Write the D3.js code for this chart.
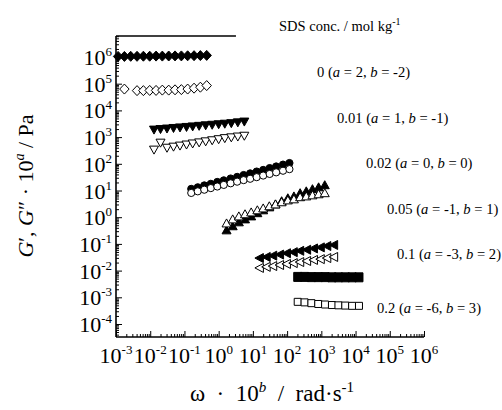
<!DOCTYPE html>
<meta charset="utf-8">
<style>
body { margin: 0; background: #fff; }
svg { font-family: "Liberation Serif", "Times New Roman", serif; }
</style>
<body>
<svg width="502" height="410"></svg>
<script src="https://cdnjs.cloudflare.com/ajax/libs/d3/7.8.5/d3.min.js"></script>
<script>

var concs = ["0", "0.01", "0.02", "0.05", "0.1", "0.2"];
var aShift = [2, 1, 0, -1, -3, -6];
var bShift = [-2, -1, 0, 1, 2, 3];

// 0 mol/kg, diamonds
var w0 = [0.00115,0.00176,0.00269,0.00412,0.00631,0.00966,0.0148,0.0226,0.0347,0.0531,0.0813,0.124,0.191,0.292,0.447];
var gp0 = [1.05e6,1.05e6,1.06e6,1.06e6,1.07e6,1.07e6,1.08e6,1.08e6,1.09e6,1.10e6,1.10e6,1.11e6,1.12e6,1.13e6,1.15e6];
var wpp0 = [0.00176,0.00412,0.00631,0.00966,0.0148,0.0226,0.0347,0.0531,0.0813,0.124,0.191,0.292,0.447];
var gpp0 = [6.3e4,5.5e4,5.5e4,5.6e4,5.6e4,5.75e4,5.75e4,5.9e4,6.0e4,6.3e4,6.8e4,7.4e4,8.5e4];

// 0.01, down triangles
var w1 = [0.0129,0.0200,0.0309,0.0479,0.0741,0.115,0.174,0.269,0.417,0.646,1.0,1.51,2.34,3.63,5.62];
var gp1 = [1860,1950,2040,2140,2240,2340,2450,2570,2690,2820,2950,3090,3240,3470,3720];
var gpp1 = [331,603,389,427,468,513,562,617,676,741,813,891,955,1023,1096];

// 0.02, circles
var w2 = [0.158,0.245,0.380,0.589,0.912,1.41,2.24,3.47,5.37,8.32,12.9,20.0,30.9,47.9,75.9,117];
var gp2 = [11.5,13.2,15.5,17.8,20.9,24.0,28.2,32.4,38.0,43.7,51.3,58.9,69.2,79.4,93.3,107];
var gpp2 = [8.1,9.3,10.7,12.3,14.1,16.2,18.6,21.4,24.5,27.5,31.6,36.3,41.7,47.9,55.0,63.1];

// 0.05, up triangles
var w3 = [1.70,2.57,3.89,5.89,8.91,13.5,20.0,30.2,45.7,69.2,105,158,240,363,550,832,1259];
var gp3 = [0.33,0.47,0.66,0.85,1.10,1.45,1.86,2.40,3.09,4.07,5.25,6.17,8.13,9.55,11.5,13.5,16.2];
var gpp3 = [0.60,0.85,1.10,1.32,1.55,1.86,2.19,2.63,3.09,3.72,4.37,4.79,5.75,6.17,6.76,7.41,8.13];

// 0.1, left triangles
var w4 = [15.5,24.5,38.0,60.3,95.5,151,234,372,589,933,1445,2291];
var gp4 = [0.0295,0.0324,0.0363,0.0398,0.0447,0.0490,0.0550,0.0603,0.0676,0.0741,0.0832,0.0912];
var gpp4 = [0.0126,0.0138,0.0148,0.0162,0.0178,0.0191,0.0209,0.0229,0.0251,0.0269,0.0295,0.0324];

// 0.2, squares
var w5 = [204,324,513,813,1288,2042,3162,5012,7943,12589];
var gp5 = [0.0058,0.0058,0.0057,0.0057,0.0057,0.0056,0.0056,0.0056,0.0056,0.0056];
var gpp5 = [6.76e-4,6.46e-4,6.03e-4,5.62e-4,5.37e-4,5.13e-4,5.01e-4,4.90e-4,4.79e-4,4.79e-4];

var xExp = [-3,-2,-1,0,1,2,3,4,5,6];
var yExp = [-4,-3,-2,-1,0,1,2,3,4,5,6];

var series = [
	{w:w0, g:gp0, shape:"diamond", open:false}, {w:wpp0, g:gpp0, shape:"diamond", open:true},
	{w:w1, g:gp1, shape:"down", open:false}, {w:w1, g:gpp1, shape:"down", open:true},
	{w:w2, g:gp2, shape:"circle", open:false}, {w:w2, g:gpp2, shape:"circle", open:true},
	{w:w3, g:gp3, shape:"up", open:false}, {w:w3, g:gpp3, shape:"up", open:true},
	{w:w4, g:gp4, shape:"left", open:false}, {w:w4, g:gpp4, shape:"left", open:true},
	{w:w5, g:gp5, shape:"bigsquare", open:false}, {w:w5, g:gpp5, shape:"square", open:true}
];

var labelPos = [[317,77],[337,123],[366,168],[387,214],[397,259],[377,313]];

var pL = 116, pR = 424, pT = 36, pB = 337;

var x = d3.scaleLog().domain([1e-3, 1e6]).range([pL, pR]);
var y = d3.scaleLog().domain([1e-4, 1e6]).range([324, 57]);
y.domain([y.invert(pB), y.invert(pT)]).range([pB, pT]);

var shapes = {
	diamond: "M0,-5L4.7,0L0,5L-4.7,0Z",
	down: "M-4.5,-3.8L4.5,-3.8L0,4.2Z",
	up: "M-4.5,3.8L4.5,3.8L0,-4.2Z",
	left: "M4,-4.5L4,4.5L-4.5,0Z",
	circle: "M3.6,0A3.6,3.6 0 1,1 -3.6,0A3.6,3.6 0 1,1 3.6,0Z",
	square: "M-3.5,-3.5H3.5V3.5H-3.5Z",
	bigsquare: "M-4,-4.5H4V4.5H-4Z"
};

var svg = d3.select("svg");

function minors(dom){
	var out = [];
	for (var k = -6; k <= 7; k++)
		for (var m = 2; m <= 9; m++){
			var v = m * Math.pow(10, k);
			if (v >= dom[0] && v <= dom[1]) out.push(v);
		}
	return out;
}

var majX = xExp.map(e => Math.pow(10, e));
var majY = yExp.map(e => Math.pow(10, e));

var gx = svg.append("g").attr("transform", "translate(0," + pB + ")");
gx.call(d3.axisBottom(x).tickValues(minors(x.domain())).tickSize(-3).tickFormat(""));
gx.append("g").call(d3.axisBottom(x).tickValues(majX).tickSize(-6).tickFormat(""));

var gy = svg.append("g").attr("transform", "translate(" + pL + ",0)");
gy.call(d3.axisLeft(y).tickValues(minors(y.domain())).tickSize(-3).tickFormat(""));
gy.append("g").call(d3.axisLeft(y).tickValues(majY).tickSize(-6).tickFormat(""));

svg.selectAll(".domain").remove();
svg.selectAll(".tick line").attr("stroke", "#000").attr("stroke-width", 1);

svg.append("line").attr("x1", pL).attr("x2", pR).attr("y1", pB).attr("y2", pB)
	.attr("stroke", "#000").attr("stroke-width", 1.6);
svg.append("line").attr("x1", pL).attr("x2", pL).attr("y1", pT).attr("y2", pB)
	.attr("stroke", "#000").attr("stroke-width", 1.6);
svg.append("line").attr("x1", pL).attr("x2", x(3.2)).attr("y1", pT).attr("y2", pT)
	.attr("stroke", "#000").attr("stroke-width", 1.6);

// tick labels
var xl = svg.selectAll(".xl").data(xExp).enter().append("text")
	.attr("class", "xl")
	.attr("x", d => x(Math.pow(10, d)))
	.attr("y", pB + 26)
	.attr("text-anchor", "middle")
	.style("font-size", "22px");
xl.append("tspan").text("10");
xl.append("tspan").attr("dy", -9).style("font-size", "13px").text(d => d);

var yl = svg.selectAll(".yl").data(yExp).enter().append("text")
	.attr("class", "yl")
	.attr("x", pL - 4)
	.attr("y", d => y(Math.pow(10, d)) + 8)
	.attr("text-anchor", "end")
	.style("font-size", "22px");
yl.append("tspan").text("10");
yl.append("tspan").attr("dy", -9).style("font-size", "13px").text(d => d);

// markers
series.forEach(function(s){
	svg.append("g").selectAll("path")
		.data(s.w.map((w, i) => [w, s.g[i]]))
		.enter().append("path")
		.attr("d", shapes[s.shape])
		.attr("transform", d => "translate(" + x(d[0]) + "," + y(d[1]) + ")")
		.attr("fill", s.open ? "#fff" : "#000")
		.attr("stroke", "#000")
		.attr("stroke-width", 1);
});

// axis titles
var xt = svg.append("text").attr("x", 272).attr("y", 401).attr("text-anchor", "middle")
	.style("font-size", "23px");
xt.append("tspan").text("\u03c9\u2002\u00b7\u200210");
xt.append("tspan").attr("dy", -9).style("font-size", "15px").style("font-style", "italic").text("b");
xt.append("tspan").attr("dy", 9).text("\u2002/\u2002rad\u00b7s");
xt.append("tspan").attr("dy", -9).style("font-size", "15px").text("-1");

var yt = svg.append("text").attr("transform", "translate(33,186) rotate(-90)")
	.attr("text-anchor", "middle").style("font-size", "22px");
yt.append("tspan").style("font-style", "italic").text("G");
yt.append("tspan").text("\u2032, ");
yt.append("tspan").style("font-style", "italic").text("G");
yt.append("tspan").text("\u2033 \u00b7 10");
yt.append("tspan").attr("dy", -9).style("font-size", "14px").style("font-style", "italic").text("a");
yt.append("tspan").attr("dy", 9).text(" / Pa");

// legend
var head = svg.append("text").attr("x", 279).attr("y", 31).style("font-size", "14.5px");
head.append("tspan").text("SDS conc. / mol kg");
head.append("tspan").attr("dy", -6).style("font-size", "10px").text("-1");

concs.forEach(function(c, i){
	var t = svg.append("text").attr("x", labelPos[i][0]).attr("y", labelPos[i][1])
		.style("font-size", "14.6px");
	t.append("tspan").text(c + " (");
	t.append("tspan").style("font-style", "italic").text("a");
	t.append("tspan").text(" = " + aShift[i] + ", ");
	t.append("tspan").style("font-style", "italic").text("b");
	t.append("tspan").text(" = " + bShift[i] + ")");
});

</script>
